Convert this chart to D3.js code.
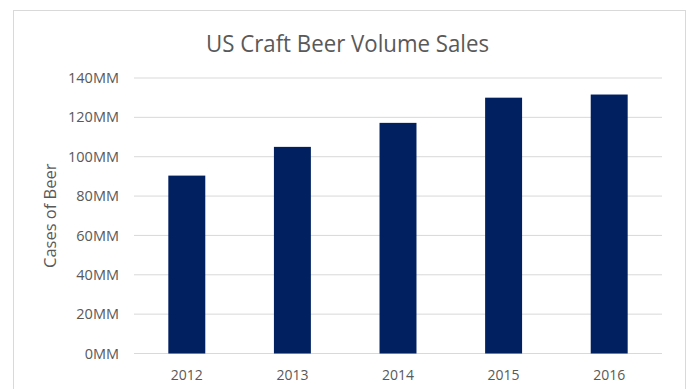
<!DOCTYPE html>
<html>
<head>
<meta charset="utf-8">
<script src="https://cdn.jsdelivr.net/npm/d3@7"></script>
<style>
  body { margin: 0; background: #fff; }
  text { font-family: "Open Sans", "Liberation Sans", sans-serif; }
</style>
</head>
<body>
<div id="chart"></div>
<script>
  const years = ["2012", "2013", "2014", "2015", "2016"];
  const cases = [90.4, 105, 117.2, 130, 131.6]; // millions of cases
  const yTicks = [0, 20, 40, 60, 80, 100, 120, 140];

  const width = 688;
  const height = 389;
  const margin = { top: 78, right: 26, bottom: 35.5, left: 134 };

  const svg = d3.select("#chart")
    .append("svg")
    .attr("width", width)
    .attr("height", height);

  // chart frame
  svg.append("rect")
    .attr("x", 13.5)
    .attr("y", 10.5)
    .attr("width", 672)
    .attr("height", 400)
    .attr("fill", "#fff")
    .attr("stroke", "#d9d9d9");

  const x = d3.scaleBand()
    .domain(years)
    .range([margin.left, width - margin.right])
    .paddingInner(0.65)
    .paddingOuter(0.325);

  const y = d3.scaleLinear()
    .domain([0, 140])
    .range([height - margin.bottom, margin.top]);

  // gridlines
  svg.append("g")
    .selectAll("line")
    .data(yTicks)
    .join("line")
    .attr("x1", margin.left)
    .attr("x2", width - margin.right)
    .attr("y1", d => y(d))
    .attr("y2", d => y(d))
    .attr("stroke", "#d9d9d9")
    .attr("stroke-width", 1);

  // y axis labels
  const yAxis = svg.append("g")
    .attr("transform", `translate(${margin.left - 15},0)`)
    .call(d3.axisLeft(y).tickValues(yTicks).tickFormat(d => d + "MM").tickSize(0).tickPadding(0));
  yAxis.select(".domain").remove();
  yAxis.selectAll("text")
    .attr("fill", "#595959")
    .style("font-size", "14.5px");

  // bars
  svg.append("g")
    .selectAll("rect")
    .data(cases)
    .join("rect")
    .attr("x", (d, i) => x(years[i]))
    .attr("y", d => y(d))
    .attr("width", x.bandwidth())
    .attr("height", d => y(0) - y(d))
    .attr("fill", "#002060");

  // x axis labels
  const xAxis = svg.append("g")
    .attr("transform", `translate(0,${y(0) + 17})`)
    .call(d3.axisBottom(x).tickSize(0).tickPadding(0));
  xAxis.select(".domain").remove();
  xAxis.selectAll("text")
    .attr("fill", "#595959")
    .style("font-size", "14px");

  // title
  svg.append("text")
    .attr("x", 347.5)
    .attr("y", 52)
    .attr("text-anchor", "middle")
    .attr("fill", "#595959")
    .attr("textLength", 283)
    .attr("lengthAdjust", "spacingAndGlyphs")
    .style("font-size", "24px")
    .text("US Craft Beer Volume Sales");

  // y axis title
  svg.append("text")
    .attr("transform", `translate(56,${(y(0) + y(140)) / 2}) rotate(-90)`)
    .attr("text-anchor", "middle")
    .attr("fill", "#595959")
    .style("font-size", "16.5px")
    .text("Cases of Beer");
</script>
</body>
</html>
